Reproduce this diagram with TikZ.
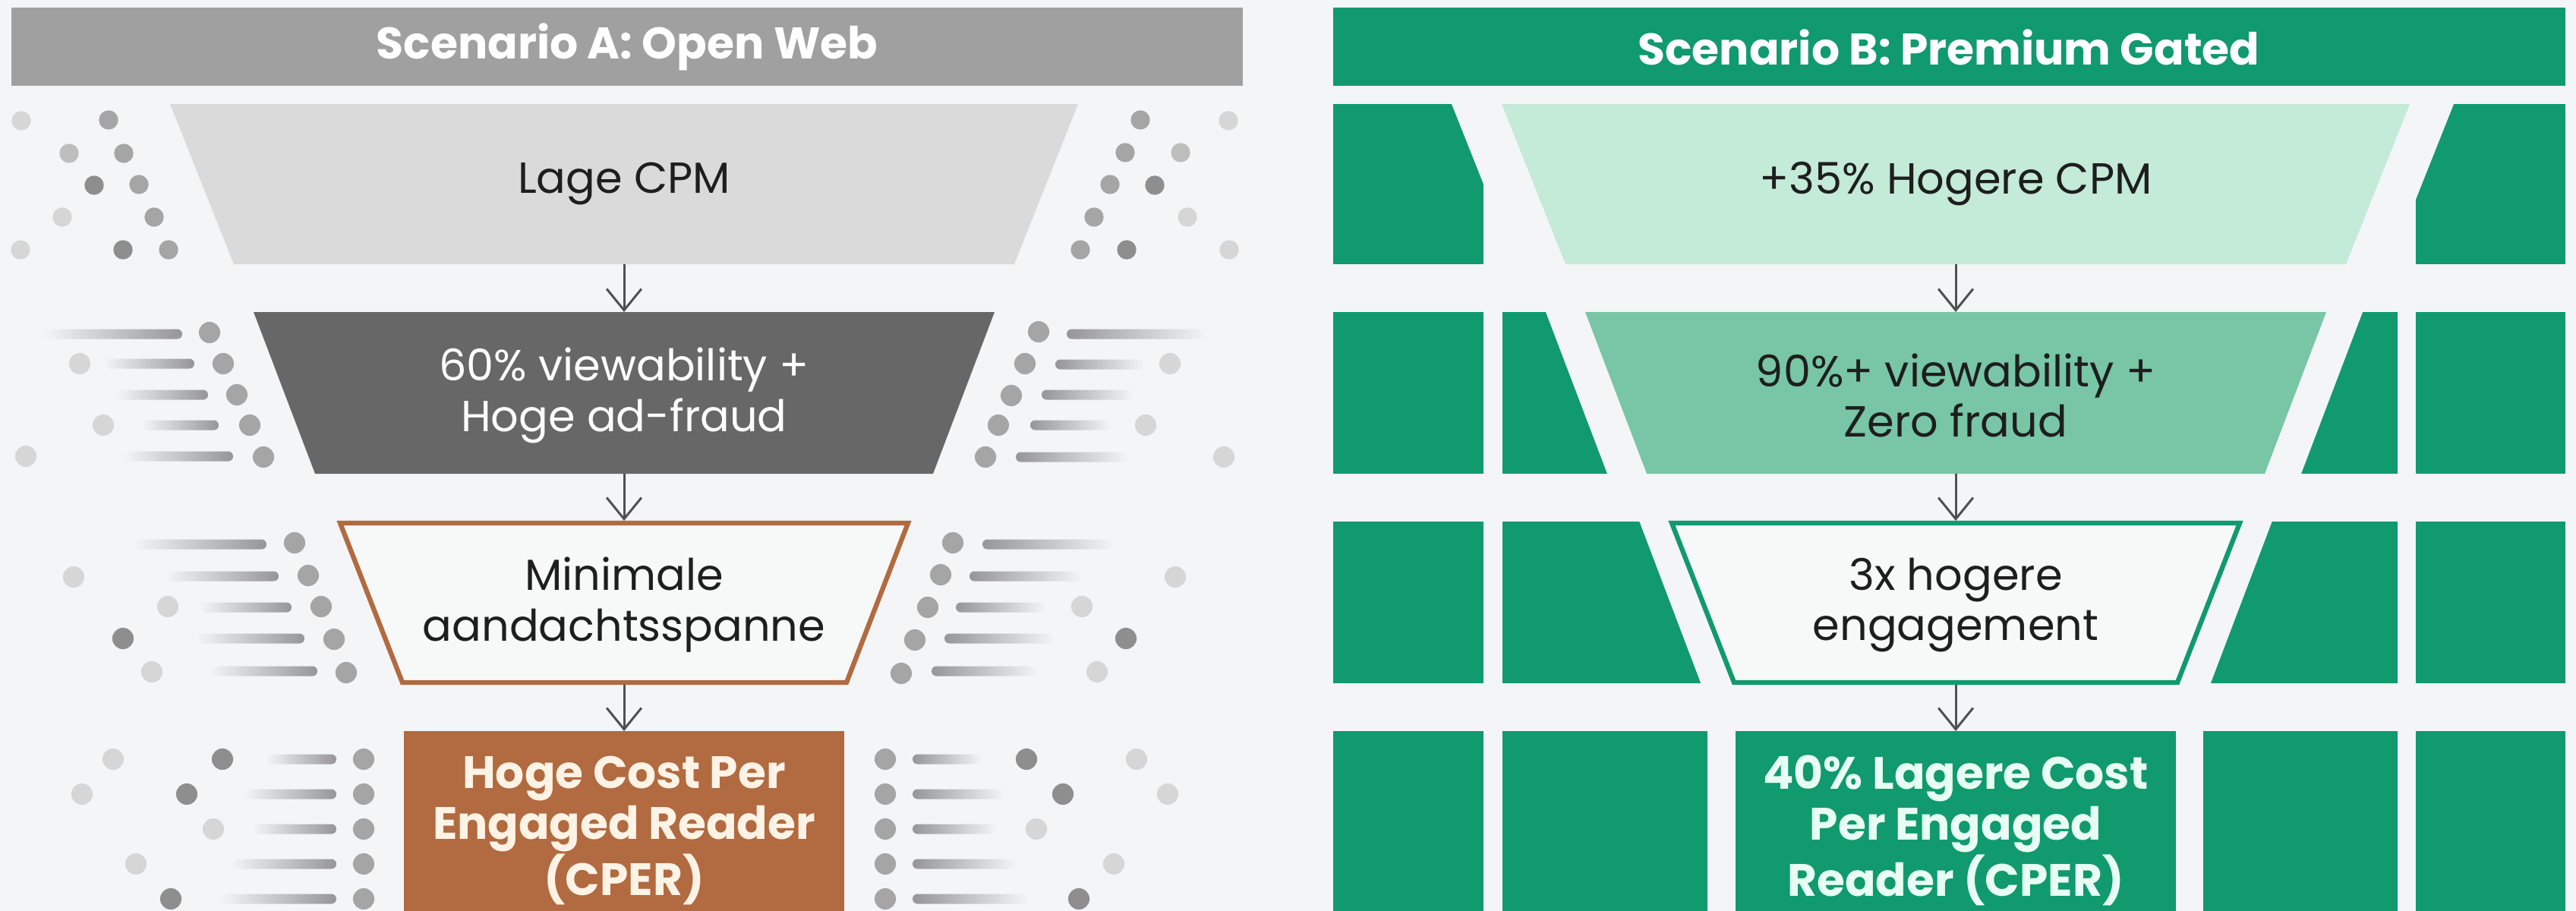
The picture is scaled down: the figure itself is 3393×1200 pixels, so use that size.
\documentclass[tikz,border=0pt]{standalone}
\usepackage{fontspec}
\setmainfont{Poppins}
\usetikzlibrary{arrows.meta}

\definecolor{bgc}{RGB}{243,245,246}
\definecolor{hdrgray}{RGB}{160,160,160}
\definecolor{lightfun}{RGB}{218,218,218}
\definecolor{darkfun}{RGB}{103,103,103}
\definecolor{rust}{RGB}{178,106,64}
\definecolor{pgreen}{RGB}{16,154,110}
\definecolor{mint}{RGB}{196,234,216}
\definecolor{midmint}{RGB}{120,198,166}
\definecolor{paper}{RGB}{247,248,248}
\definecolor{ink}{RGB}{30,30,30}
\definecolor{arrowc}{RGB}{80,80,84}
\definecolor{dotlt}{RGB}{214,214,214}
\definecolor{dotml}{RGB}{190,190,190}
\definecolor{dotmd}{RGB}{165,165,165}
\definecolor{dotdk}{RGB}{142,142,142}
\definecolor{streak}{RGB}{150,150,153}
\definecolor{cream}{RGB}{255,243,230}
\definecolor{mintwhite}{RGB}{232,255,244}

\tikzset{
  hdr/.style={font=\fontsize{16.6}{19}\selectfont\bfseries, text=white},
  lbl/.style={align=center, font=\fontsize{16.3}{19}\selectfont, text=ink},
  big/.style={align=center, font=\fontsize{17}{19}\selectfont\bfseries},
  flow/.style={draw=arrowc, line width=0.85pt, -{Straight Barb[length=8pt,width=13pt]}},
}

\begin{document}
\begin{tikzpicture}[x=0.01cm, y=-0.01cm]
    \useasboundingbox (0,0) rectangle (3393,1200);
    \fill[bgc] (0,0) rectangle (3393,1200);

    % headers
    \fill[hdrgray] (15,10) rectangle (1637,113);
    \fill[pgreen] (1756,10) rectangle (3379,113);
    \node[hdr] (hA) at (826,62) {Scenario A: Open Web};
    \node[hdr] (hB) at (2567,62) {Scenario B: Premium Gated};

    % --- scenario A: loose dots and streaks around the funnel
    \foreach \x/\y/\c in {28/159/dotlt, 143/158/dotmd, 91/202/dotml, 163/202/dotmd,
        124/244/dotdk, 183/243/dotmd, 82/286/dotlt, 203/286/dotmd, 27/329/dotlt,
        162/329/dotdk, 222/329/dotmd,
        1502/158/dotmd, 1618/159/dotlt, 1482/201/dotmd, 1555/201/dotml, 1462/243/dotmd,
        1521/244/dotdk, 1441/286/dotmd, 1564/286/dotlt, 1423/329/dotmd, 1484/329/dotdk,
        1619/329/dotlt}
        \fill[\c] (\x,\y) circle[radius=3.6pt];

    % streaks fading outwards
    \foreach \a/\b/\y in {57/240/440, 137/256/479, 153/274/520, 187/288/560, 163/307/601,
        176/351/717, 217/367/759, 263/384/800, 258/401/841, 275/418/884,
        350/443/1000, 321/443/1046, 332/443/1092, 304/443/1138, 289/443/1184}
        \shade[left color=bgc, right color=streak, rounded corners=1.8pt] (\a,\y-6.5) rectangle (\b,\y+6.5);
    \foreach \a/\b/\y in {1405/1590/440, 1390/1508/480, 1372/1493/520, 1357/1463/560, 1338/1487/602,
        1294/1468/717, 1277/1426/759, 1259/1378/800, 1244/1389/841, 1227/1368/884,
        1202/1294/1000, 1202/1323/1046, 1202/1313/1092, 1202/1340/1138, 1202/1355/1184}
        \shade[left color=streak, right color=bgc, rounded corners=1.8pt] (\a,\y-6.5) rectangle (\b,\y+6.5);

    \foreach \x/\y/\c in {276/438/dotmd, 294/479/dotmd, 312/520/dotmd, 329/560/dotmd, 347/602/dotmd,
        105/479/dotlt, 136/560/dotlt, 34/601/dotlt,
        1368/437/dotmd, 1350/479/dotmd, 1332/521/dotmd, 1315/560/dotmd, 1298/602/dotmd,
        1541/479/dotlt, 1509/560/dotlt, 1612/602/dotlt,
        388/715/dotmd, 406/758/dotmd, 423/799/dotmd, 440/842/dotmd, 456/886/dotmd,
        97/760/dotlt, 221/799/dotlt, 162/841/dotdk, 200/885/dotlt,
        1255/715/dotmd, 1239/757/dotmd, 1222/800/dotmd, 1205/843/dotmd, 1187/887/dotmd,
        1548/760/dotlt, 1425/799/dotlt, 1483/841/dotdk, 1445/885/dotlt,
        479/1000/dotmd, 479/1046/dotmd, 479/1092/dotmd, 479/1138/dotmd, 479/1184/dotmd,
        149/1000/dotlt, 293/1000/dotdk, 108/1046/dotlt, 246/1046/dotdk, 281/1092/dotlt,
        179/1138/dotlt, 225/1184/dotdk,
        1166/1000/dotmd, 1166/1046/dotmd, 1166/1092/dotmd, 1166/1138/dotmd, 1166/1184/dotmd,
        1352/1000/dotdk, 1497/1000/dotlt, 1400/1046/dotdk, 1538/1046/dotlt, 1365/1092/dotlt,
        1467/1138/dotlt, 1421/1184/dotdk}
        \fill[\c] (\x,\y) circle[radius=4pt];

    % --- scenario A funnel
    \fill[lightfun] (224,137) -- (1420,137) -- (1336,348) -- (308,348) -- cycle;
    \fill[darkfun] (334,411) -- (1310,411) -- (1229,624) -- (415,624) -- cycle;
    \draw[rust, line width=1.8pt, fill=paper] (448,689) -- (1196,689) -- (1115,899) -- (530,899) -- cycle;
    \fill[rust] (532,963) rectangle (1112,1200);

    \node[lbl] (A1) at (822,242) {Lage CPM};
    \node[lbl, text=white] (A2) at (822,521) {60\% viewability +\\Hoge ad-fraud};
    \node[lbl] (A3) at (822,797) {Minimale\\aandachtsspanne};
    \node[big, text=cream] (A4) at (822,1094) {Hoge Cost Per\\Engaged Reader\\(CPER)};

    \coordinate (A1b) at (822,348);
    \coordinate (A2t) at (822,411);
    \coordinate (A2b) at (822,624);
    \coordinate (A3t) at (822,686);
    \coordinate (A3b) at (822,902);
    \coordinate (A4t) at (822,963);
    \draw[flow] (A1b) -- (A2t);
    \draw[flow] (A2b) -- (A3t);
    \draw[flow] (A3b) -- (A4t);

    % --- scenario B: green wall, funnel cut out of it
    \foreach \xa/\xb in {1756/1954, 1979/2249, 2902/3158, 3182/3379}
        \foreach \ya/\yb in {411/624, 687/900, 963/1200}
            \fill[pgreen] (\xa,\ya) rectangle (\xb,\yb);
    \foreach \xa/\xb in {1756/1954, 3182/3379}
        \fill[pgreen] (\xa,137) rectangle (\xb,348);

    \fill[bgc] (1912,137) -- (3232,137) -- (3148,348) -- (1996,348) -- cycle;
    \fill[bgc] (2036,411) -- (3112,411) -- (3031,624) -- (2117,624) -- cycle;
    \fill[bgc] (2159,686) -- (2993,686) -- (2911,902) -- (2241,902) -- cycle;

    \fill[mint] (1978,137) -- (3174,137) -- (3090,348) -- (2062,348) -- cycle;
    \fill[midmint] (2088,411) -- (3064,411) -- (2983,624) -- (2169,624) -- cycle;
    \draw[pgreen, line width=1.8pt, fill=paper] (2202,689) -- (2950,689) -- (2868,899) -- (2284,899) -- cycle;
    \fill[pgreen] (2286,963) rectangle (2866,1200);

    \node[lbl] (B1) at (2576,242) {+35\% Hogere CPM};
    \node[lbl] (B2) at (2576,521) {90\%+ viewability +\\Zero fraud};
    \node[lbl] (B3) at (2576,797) {3x hogere\\engagement};
    \node[big, text=mintwhite] (B4) at (2576,1094) {40\% Lagere Cost\\Per Engaged\\Reader (CPER)};

    \coordinate (B1b) at (2576,348);
    \coordinate (B2t) at (2576,411);
    \coordinate (B2b) at (2576,624);
    \coordinate (B3t) at (2576,686);
    \coordinate (B3b) at (2576,902);
    \coordinate (B4t) at (2576,963);
    \draw[flow] (B1b) -- (B2t);
    \draw[flow] (B2b) -- (B3t);
    \draw[flow] (B3b) -- (B4t);
\end{tikzpicture}
\end{document}
